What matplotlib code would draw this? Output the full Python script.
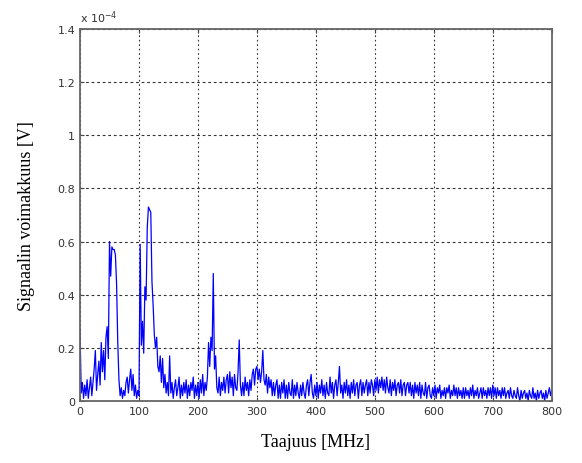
import numpy as np
import matplotlib
matplotlib.use("Agg")
import matplotlib.pyplot as plt
from matplotlib.ticker import FuncFormatter

# taajuus 0..800 MHz, 2 MHz valein
freq_step = 2
# signaali yksikössä 1e-6 V
signal_uv = [
    27, 3, 7, 1, 6, 2, 8, 1, 5, 9, 2, 7, 12, 19, 4, 10, 15, 6, 22, 11, 19, 8, 24, 28, 16,
    60, 47, 58, 57, 57, 55, 44, 22, 8, 2, 5, 1, 4, 2, 7, 9, 3, 8, 12, 4, 10, 2, 6, 1, 4,
    2, 59, 21, 30, 18, 43, 38, 65, 73, 72, 71, 45, 36, 25, 20, 24, 13, 11, 17, 7, 16, 5, 10, 3, 7,
    2, 17, 3, 7, 1, 5, 8, 2, 5, 9, 1, 6, 2, 7, 3, 8, 1, 6, 2, 7, 4, 9, 1, 6, 2,
    7, 1, 8, 3, 10, 2, 7, 4, 9, 22, 13, 24, 19, 48, 12, 17, 5, 3, 9, 2, 7, 4, 9, 3, 8,
    10, 3, 11, 5, 9, 2, 10, 5, 4, 11, 23, 6, 2, 7, 2, 9, 4, 7, 2, 8, 4, 10, 12, 6, 12,
    13, 8, 12, 7, 11, 19, 8, 6, 10, 3, 9, 5, 8, 2, 7, 2, 6, 8, 1, 6, 1, 7, 3, 8, 1,
    6, 1, 7, 3, 2, 8, 1, 6, 2, 7, 3, 1, 6, 2, 7, 3, 1, 6, 8, 2, 7, 10, 3, 1, 6,
    2, 7, 1, 6, 3, 8, 2, 6, 1, 7, 3, 2, 9, 3, 7, 1, 6, 8, 2, 7, 13, 3, 6, 1, 7,
    3, 8, 2, 6, 1, 7, 3, 8, 2, 6, 7, 1, 6, 8, 2, 7, 3, 6, 8, 2, 7, 3, 8, 6, 2,
    8, 4, 9, 3, 8, 5, 9, 4, 8, 3, 9, 5, 3, 8, 2, 7, 4, 8, 2, 6, 7, 3, 8, 2, 6,
    7, 2, 6, 7, 3, 7, 2, 6, 1, 7, 3, 6, 2, 7, 1, 6, 3, 2, 7, 1, 5, 6, 2, 1, 5,
    2, 6, 1, 5, 3, 6, 1, 4, 2, 5, 1, 5, 3, 6, 1, 4, 2, 6, 2, 5, 1, 5, 2, 4, 1,
    5, 1, 5, 2, 4, 1, 5, 2, 6, 1, 4, 2, 5, 1, 3, 5, 1, 5, 2, 4, 1, 5, 2, 5, 1,
    6, 2, 5, 1, 5, 2, 4, 1, 5, 2, 5, 1, 3, 4, 1, 5, 2, 1, 4, 2, 1, 5, 2, 0, 4,
    1, 3, 4, 1, 3, 0, 4, 2, 1, 5, 1, 3, 0, 4, 1, 3, 4, 1, 3, 0, 4, 1, 3, 5, 2, 4,
]

x_ticks = [0, 100, 200, 300, 400, 500, 600, 700, 800]
y_ticks = [0, 0.2e-4, 0.4e-4, 0.6e-4, 0.8e-4, 1.0e-4, 1.2e-4, 1.4e-4]

freq = np.arange(len(signal_uv)) * freq_step
signal = np.array(signal_uv) * 1e-6

fig = plt.figure(figsize=(5.82, 4.64), dpi=100)
ax = fig.add_axes([0.1375, 0.1336, 0.8105, 0.8017])

ax.plot(freq, signal, color=(0, 0, 1), linewidth=0.9)

ax.set_xlim(0, 800)
ax.set_ylim(0, 1.4e-4)
ax.set_xticks(x_ticks)
ax.set_yticks(y_ticks)
ax.yaxis.set_major_formatter(FuncFormatter(lambda v, p: '%g' % round(v * 1e4, 2)))

# matlab-tyylinen ruudukko
ax.xaxis.grid(True, linestyle=(0, (1.5, 2.5)), color='#333333', linewidth=0.8)
ax.yaxis.grid(True, linestyle=(0, (2.5, 2.5)), color='#333333', linewidth=0.8)
ax.set_axisbelow(True)

for s in ax.spines.values():
    s.set_color('#666666')
    s.set_linewidth(1.3)
ax.tick_params(direction='in', length=3, top=True, right=True,
               labelsize=8, colors='#444444', labelcolor='#333333')

ax.text(0.0, 1.012, 'x 10$^{-4}$', transform=ax.transAxes, fontsize=8,
        color='#333333', ha='left', va='bottom')

ax.set_xlabel('Taajuus [MHz]', family='Liberation Serif', fontsize=13, labelpad=12)
ax.set_ylabel('Signaalin voimakkuus [V]', family='Liberation Serif', fontsize=13, labelpad=16)

fig.savefig('out.png', dpi=100)
